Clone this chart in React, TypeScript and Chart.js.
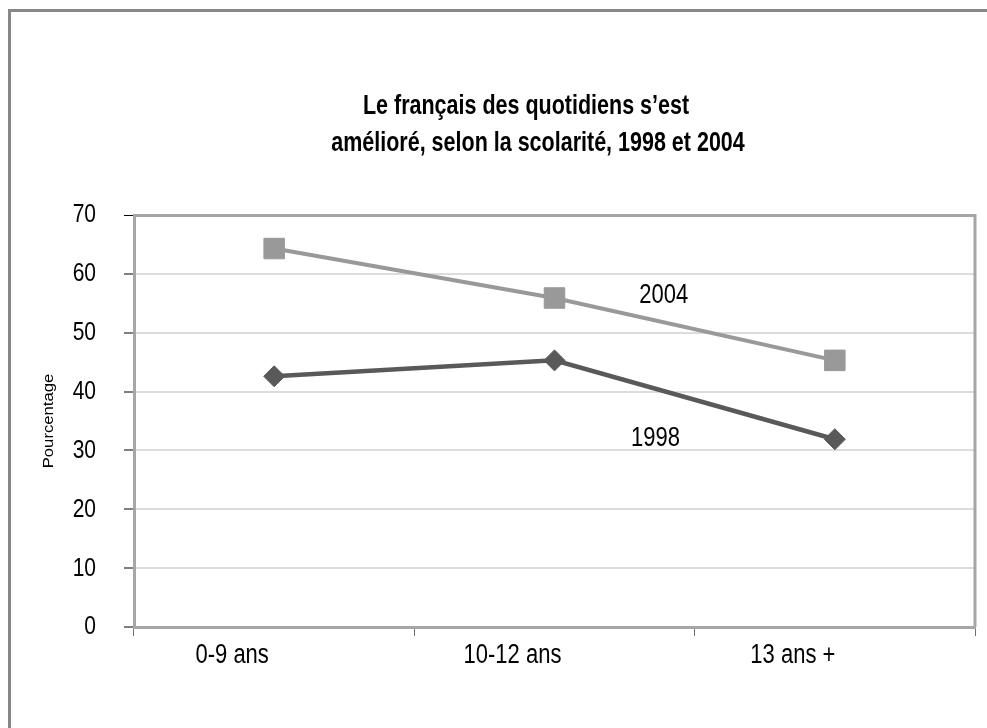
import React, { useEffect, useRef } from 'react';
import { Chart, registerables } from 'chart.js';

Chart.register(...registerables);

const categories = ['0-9 ans', '10-12 ans', '13 ans +'];
const values2004 = [64.3, 55.9, 45.3];
const values1998 = [42.6, 45.3, 31.9];
const yMin = 0;
const yMax = 70;
const yStep = 10;
const titleLines = ['Le français des quotidiens s’est', 'amélioré, selon la scolarité, 1998 et 2004'];
const yAxisTitle = 'Pourcentage';
const seriesNames = ['2004', '1998'];
// annotation anchors in data space (category index, value)
const annotationCats = [1.39, 1.36];
const annotationVals = [56.4, 32.0];

const FONT = "'Liberation Sans', Arial, sans-serif";
const STRETCH = 1.27; // reference glyphs are vertically elongated

function stretchedText(ctx: any, text: string, x: number, y: number, font: string, align: string, sy: number) {
  ctx.save();
  ctx.translate(x, y);
  ctx.scale(1, sy);
  ctx.font = font;
  ctx.textAlign = align;
  ctx.textBaseline = 'middle';
  ctx.fillText(text, 0, 0);
  ctx.restore();
}

const decorPlugin = {
  id: 'decor',
  beforeDraw(chart: any) {
    const { ctx, width, height } = chart;
    ctx.save();
    ctx.fillStyle = '#ffffff';
    ctx.fillRect(0, 0, width, height);
    // outer frame (top and left edges visible)
    ctx.fillStyle = '#878787';
    ctx.fillRect(8, 9, width - 8, 3);
    ctx.fillRect(8, 9, 3, height - 9);
    ctx.restore();
  },
  beforeDatasetsDraw(chart: any) {
    const { ctx, chartArea } = chart;
    ctx.save();
    ctx.strokeStyle = '#a6a6a6';
    ctx.lineWidth = 3;
    ctx.beginPath();
    ctx.moveTo(chartArea.right, chartArea.top - 1);
    ctx.lineTo(chartArea.right, chartArea.bottom);
    ctx.stroke();
    ctx.restore();
  },
  afterDraw(chart: any) {
    const { ctx, chartArea } = chart;
    const xs = chart.scales.x;
    const ys = chart.scales.y;
    ctx.save();
    ctx.fillStyle = '#000000';
    // title
    stretchedText(ctx, titleLines[0], 526, 106, `bold 21.5px ${FONT}`, 'center', STRETCH);
    stretchedText(ctx, titleLines[1], 538, 143, `bold 21.5px ${FONT}`, 'center', STRETCH);
    // series annotations
    seriesNames.forEach((name, i) => {
      stretchedText(ctx, name, xs.getPixelForValue(annotationCats[i]), ys.getPixelForValue(annotationVals[i]), `22px ${FONT}`, 'center', STRETCH);
    });
    // y tick labels
    ys.ticks.forEach((t: any) => {
      stretchedText(ctx, String(t.value), chartArea.left - 38, ys.getPixelForValue(t.value), `21px ${FONT}`, 'right', STRETCH);
    });
    // x category labels
    xs.getLabels().forEach((lab: string, i: number) => {
      stretchedText(ctx, lab, xs.getPixelForValue(i) - 42, chartArea.bottom + 28, `22px ${FONT}`, 'center', STRETCH);
    });
    // y axis title (rotated)
    ctx.translate(49, (chartArea.top + chartArea.bottom) / 2);
    ctx.rotate(-Math.PI / 2);
    ctx.scale(1.15, 1);
    ctx.font = `14.5px ${FONT}`;
    ctx.textAlign = 'center';
    ctx.textBaseline = 'middle';
    ctx.fillText(yAxisTitle, 0, 0);
    ctx.restore();
  },
};

export default function App() {
  const ref = useRef<HTMLCanvasElement | null>(null);
  useEffect(() => {
    if (!ref.current) return;
    const chart = new Chart(ref.current, {
      type: 'line',
      data: {
        labels: categories,
        datasets: [
          {
            label: seriesNames[0],
            data: values2004,
            borderColor: '#999999',
            backgroundColor: '#999999',
            borderWidth: 4,
            pointStyle: 'rect',
            pointRadius: 14.5,
            pointHoverRadius: 14.5,
            pointBorderWidth: 1,
            pointBorderColor: '#999999',
            pointBackgroundColor: '#999999',
            tension: 0,
          },
          {
            label: seriesNames[1],
            data: values1998,
            borderColor: '#595959',
            backgroundColor: '#595959',
            borderWidth: 4.5,
            pointStyle: 'rectRot',
            pointRadius: 10.5,
            pointHoverRadius: 10.5,
            pointBorderWidth: 1,
            pointBorderColor: '#595959',
            pointBackgroundColor: '#595959',
            tension: 0,
          },
        ],
      },
      options: {
        responsive: false,
        animation: false,
        events: [],
        layout: { autoPadding: false, padding: { top: 215, right: 12, left: 0, bottom: 0 } },
        plugins: {
          legend: { display: false },
          title: { display: false },
          tooltip: { enabled: false },
        },
        scales: {
          x: {
            type: 'category',
            offset: true,
            afterFit: (s: any) => { s.height = 101; },
            grid: {
              offset: true,
              drawOnChartArea: false,
              drawTicks: true,
              tickLength: 9,
              tickColor: '#707070',
              tickWidth: 1,
            },
            border: { display: true, color: '#a6a6a6', width: 3 },
            ticks: { display: false, maxRotation: 0 },
          },
          y: {
            min: yMin,
            max: yMax,
            afterFit: (s: any) => { s.width = 134; },
            ticks: { display: false, stepSize: yStep },
            grid: {
              color: (c: any) => (c.tick && c.tick.value === yMax ? '#a6a6a6' : c.tick && c.tick.value === yMin ? 'rgba(0,0,0,0)' : '#dcdcdc'),
              lineWidth: (c: any) => (c.tick && c.tick.value === yMax ? 3 : 2),
              drawTicks: true,
              tickLength: 10,
              tickColor: '#000000',
              tickWidth: 1,
            },
            border: { display: true, color: '#a6a6a6', width: 3 },
            title: { display: false },
          },
        },
      },
      plugins: [decorPlugin],
    });
    return () => chart.destroy();
  }, []);
  return (
    <div style={{ position: 'absolute', left: 0, top: 0, width: 987, height: 728 }}>
      <canvas ref={ref} width={987} height={728} style={{ display: 'block', width: 987, height: 728 }} />
    </div>
  );
}
